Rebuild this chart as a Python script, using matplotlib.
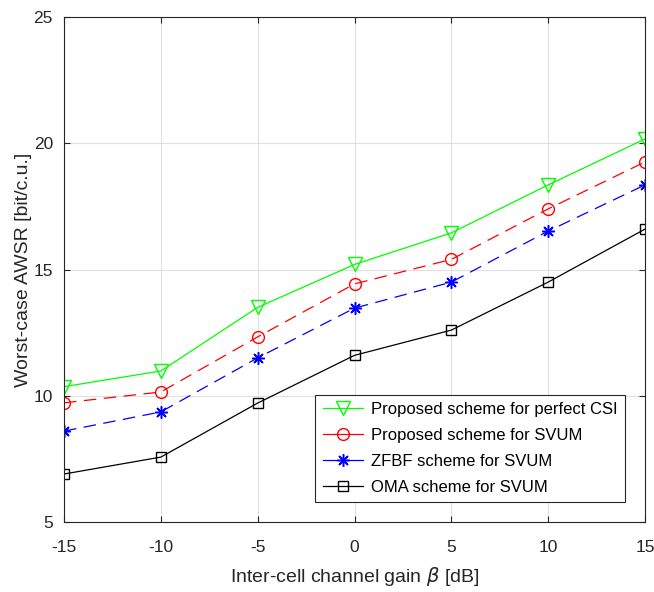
import matplotlib
matplotlib.use("Agg")
import matplotlib.pyplot as plt

beta = [-15, -10, -5, 0, 5, 10, 15]
perfect_csi = [10.36, 10.98, 13.5, 15.2, 16.45, 18.35, 20.17]
proposed_svum = [9.72, 10.15, 12.33, 14.43, 15.4, 17.4, 19.26]
zfbf_svum = [8.6, 9.36, 11.5, 13.47, 14.5, 16.52, 18.35]
oma_svum = [6.9, 7.57, 9.71, 11.6, 12.6, 14.5, 16.6]

labels = ["Proposed scheme for perfect CSI", "Proposed scheme for SVUM",
          "ZFBF scheme for SVUM", "OMA scheme for SVUM"]
xticks = [-15, -10, -5, 0, 5, 10, 15]
yticks = [5, 10, 15, 20, 25]

plt.rcParams['font.family'] = ['Liberation Sans', 'DejaVu Sans']
plt.rcParams['axes.unicode_minus'] = False

fig = plt.figure(figsize=(6.54, 5.92), dpi=100)
ax = fig.add_axes([64/654, 70/592, (645-64)/654, (522-17)/592])

dash = (0, (10, 6))
ax.plot(beta, perfect_csi, color=(0, 1, 0), ls='-', lw=0.9, marker='v', ms=9.5,
        mfc='none', mec=(0, 1, 0), mew=1.0, label=labels[0])
ax.plot(beta, proposed_svum, color='red', ls=dash, lw=0.9, marker='o', ms=8.5,
        mfc='none', mec='red', mew=1.0, label=labels[1])
ax.plot(beta, zfbf_svum, color='blue', ls=dash, lw=0.9, marker=(8, 2, 0), ms=9,
        mfc='blue', mec='blue', mew=1.1, label=labels[2])
ax.plot(beta, oma_svum, color='black', ls='-', lw=0.9, marker='s', ms=6.5,
        mfc='none', mec='black', mew=1.0, label=labels[3])

ax.set_xlim(-15, 15)
ax.set_ylim(5, 25)
ax.set_xticks(xticks)
ax.set_yticks(yticks)
ax.tick_params(direction='in', top=True, right=True, labelsize=12.5, length=4.5,
               colors='#262626')
ax.tick_params(axis='y', pad=8)
ax.tick_params(axis='x', pad=13)
ax.grid(True, color='#e0e0e0', lw=0.8)
ax.set_axisbelow(True)
for s in ax.spines.values():
    s.set_color('#262626')
    s.set_linewidth(0.8)

ax.set_xlabel(r"Inter-cell channel gain $\beta$ [dB]", fontsize=14, color='#262626', labelpad=7)
ax.set_ylabel("Worst-case AWSR [bit/c.u.]", fontsize=14, color='#262626', labelpad=1)

leg = ax.legend(loc='lower right', bbox_to_anchor=(0.9656, 0.0396), borderaxespad=0,
                fontsize=12, fancybox=False, edgecolor='#262626', framealpha=1,
                handlelength=2.4, borderpad=0.45, labelspacing=0.65, handletextpad=0.5)
leg.get_frame().set_linewidth(0.8)
for h in leg.get_lines():
    h.set_linestyle('-')

fig.savefig("out.png", dpi=100, facecolor='white')
